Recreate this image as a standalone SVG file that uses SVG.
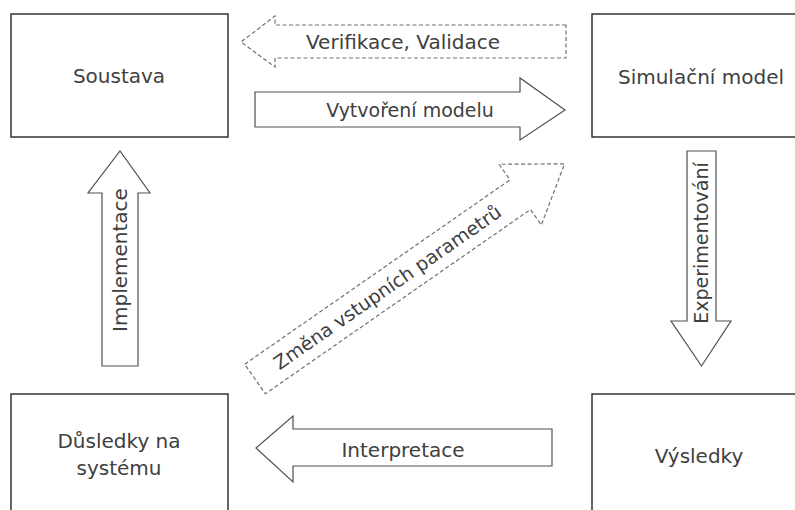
<svg xmlns="http://www.w3.org/2000/svg" width="795" height="510" viewBox="0 0 795 510">
  <style>
    .box { fill: #ffffff; stroke: #333333; stroke-width: 1.5; }
    .arrow { fill: #ffffff; stroke: #505050; stroke-width: 1.2; stroke-linejoin: miter; }
    .dashed { fill: #ffffff; stroke: #707070; stroke-width: 1.2; stroke-dasharray: 4 2.5; }
    text { font-family: "DejaVu Sans", Verdana, sans-serif; font-size: 20px; fill: #404040; text-anchor: middle; }
    .sm { font-size: 19px; }
  </style>
  <rect width="795" height="510" fill="#ffffff"/>

  <g id="soustava">
    <rect class="box" x="11" y="14" width="217" height="123"/>
    <text x="119" y="83">Soustava</text>
  </g>
  <g id="simulacni-model">
    <rect class="box" x="592" y="14" width="217" height="123"/>
    <text x="701" y="84">Simulační model</text>
  </g>
  <g id="dusledky">
    <rect class="box" x="11" y="394" width="217" height="130"/>
    <text x="119" y="448">Důsledky na</text>
    <text x="119" y="475">systému</text>
  </g>
  <g id="vysledky">
    <rect class="box" x="592" y="394" width="217" height="130"/>
    <text x="699" y="463">Výsledky</text>
  </g>

  <g id="connectors">
    <g id="verifikace">
      <polygon class="dashed" points="566,25 275,25 275,16 241,42 275,67 275,58 566,58"/>
      <text x="403" y="49">Verifikace, Validace</text>
    </g>
    <g id="vytvoreni">
      <polygon class="arrow" points="255,92 520,92 520,78 565,110 520,140 520,127 255,127"/>
      <text class="sm" x="410" y="117">Vytvoření modelu</text>
    </g>
    <g id="experimentovani">
      <polygon class="arrow" points="687,151 716,151 716,321 731,321 701.5,366 671,321 687,321"/>
      <text class="sm" transform="translate(701.5,243) rotate(-90)" x="0" y="6">Experimentování</text>
    </g>
    <g id="interpretace">
      <polygon class="arrow" points="552,429 293,429 293,416 256,448 293,482 293,466 552,466"/>
      <text x="403" y="457">Interpretace</text>
    </g>
    <g id="implementace">
      <polygon class="arrow" points="102,366 102,193 88,193 120,151 150,193 138,193 138,366"/>
      <text transform="translate(120,260) rotate(-90)" x="0" y="7">Implementace</text>
    </g>
    <g id="zmena" transform="translate(255,379) rotate(-34.8)">
      <polygon class="dashed" points="0,-18 323,-18 323,-37 377,0 323,37 323,18 0,18"/>
      <text class="sm" x="161" y="7">Změna vstupních parametrů</text>
    </g>
  </g>
</svg>
